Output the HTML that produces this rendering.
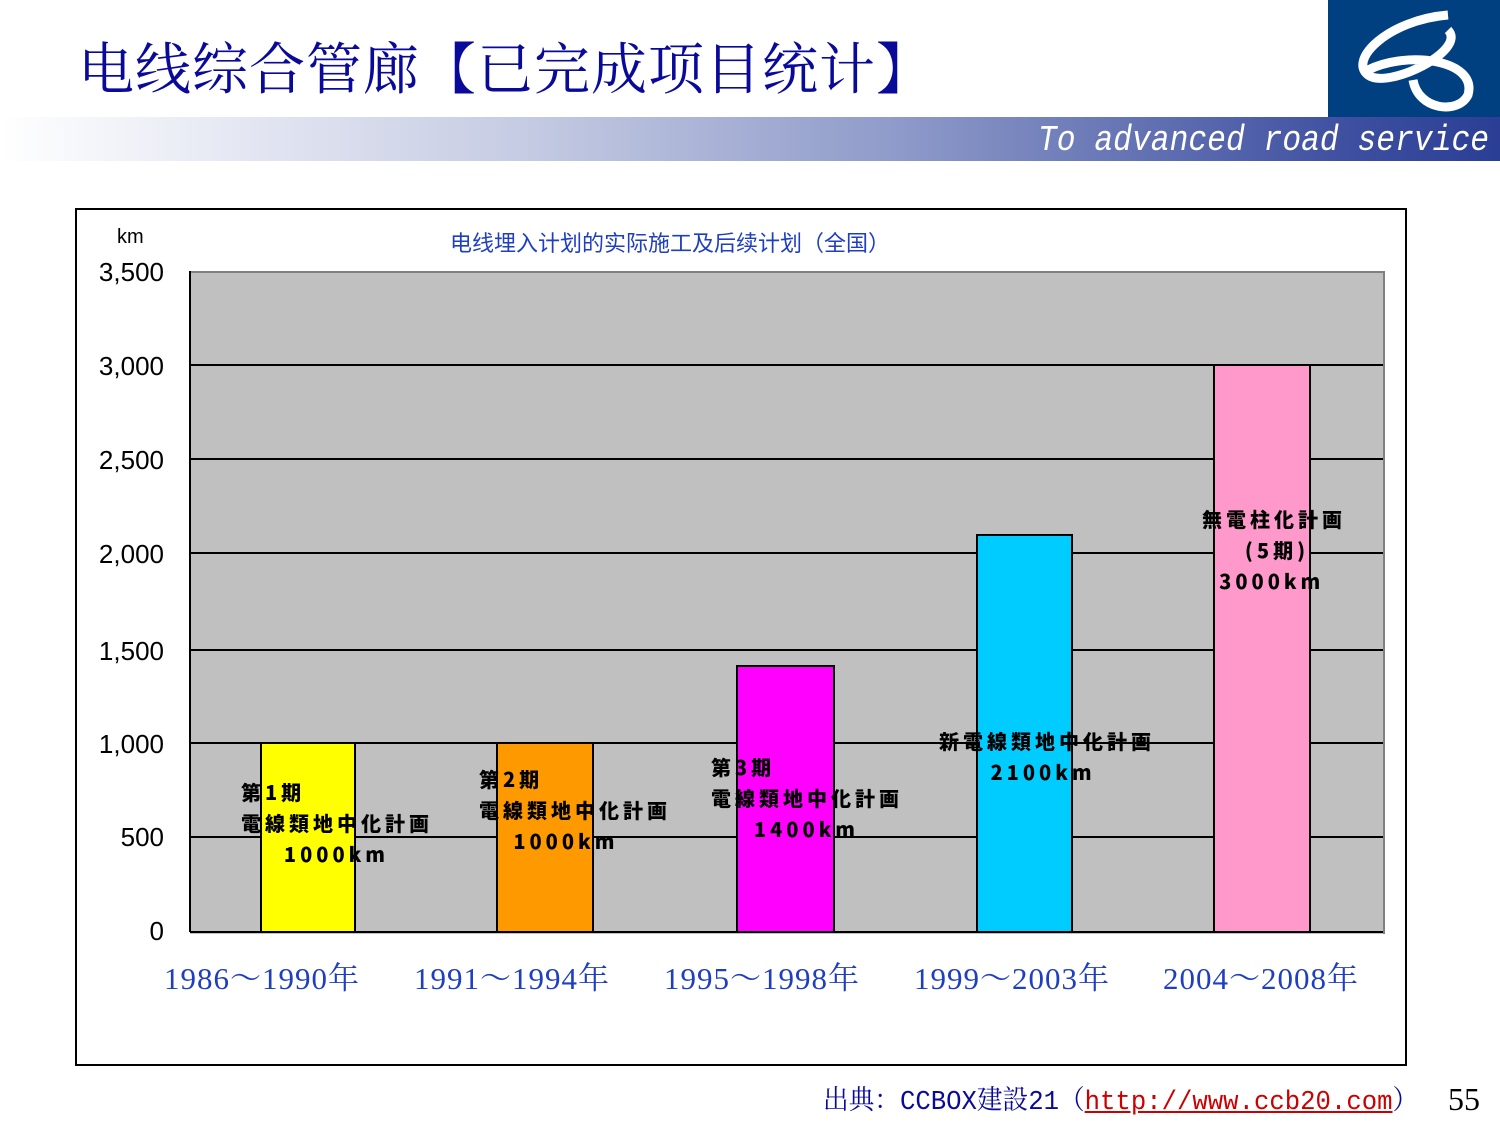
<!DOCTYPE html>
<html><head><meta charset="utf-8"><style>
body{margin:0;width:1500px;height:1125px;background:#fff;position:relative;overflow:hidden;font-family:"Liberation Sans","Noto Sans CJK JP",sans-serif}
.a{position:absolute}
.lbl{position:absolute;font-family:"Noto Sans CJK JP",sans-serif;font-weight:900;font-size:20px;color:#000;line-height:31px;white-space:nowrap;letter-spacing:4px}
.yt{position:absolute;right:1336px;font-size:26px;color:#000;font-family:"Liberation Sans",sans-serif}
.xt{position:absolute;top:953px;font-size:31px;color:#1f3fc0;font-family:"Liberation Serif","Noto Serif CJK SC",serif;letter-spacing:1px}
</style></head><body>
<div class="a" style="left:0;top:117px;width:1500px;height:44px;background:linear-gradient(90deg,#fff 0%,#c5cbe3 35%,#8e9ac9 60%,#3e4fa0 90%,#2a3e95 100%)"></div>
<div class="a" style="left:1328px;top:0;width:172px;height:117px;background:#003f80"></div>
<svg class="a" style="left:1328px;top:0" width="172" height="117"><path d="M120 15 C60 20 20 60 40 75 C60 90 140 50 120 30 M40 70 C80 50 150 60 140 95 C130 115 90 110 85 80" stroke="#fff" stroke-width="9" fill="none"/></svg>
<div class="a" style="left:78px;top:26px;font-size:56px;color:#0a0a9a;font-family:'Noto Serif CJK SC',serif;letter-spacing:1px">电线综合管廊【已完成项目统计】</div>
<div class="a" style="left:1038px;top:120px;font-size:36px;color:#fff;font-style:italic;font-family:'Liberation Mono',monospace;transform:scaleX(0.87);transform-origin:left top;white-space:nowrap">To advanced road service</div>
<div class="a" style="left:75px;top:208px;width:1328px;height:854px;border:2px solid #000"></div>
<div class="a" style="left:190px;top:271px;width:1193px;height:661px;background:#c0c0c0;border-top:2px solid #808080;border-right:2px solid #808080"></div>
<svg class="a" style="left:0;top:0" width="1500" height="1125">
<g stroke="#000" stroke-width="2">
<line x1="190" y1="365" x2="1383" y2="365"/><line x1="190" y1="459" x2="1383" y2="459"/><line x1="190" y1="553" x2="1383" y2="553"/><line x1="190" y1="650" x2="1383" y2="650"/><line x1="190" y1="743" x2="1383" y2="743"/><line x1="190" y1="837" x2="1383" y2="837"/>
<line x1="190" y1="932" x2="1383" y2="932"/><line x1="190" y1="271" x2="190" y2="932"/>
</g>
<g stroke="#000" stroke-width="2">
<rect x="261" y="743" width="94" height="189" fill="#ffff00"/>
<rect x="497" y="743" width="96" height="189" fill="#ff9900"/>
<rect x="737" y="666" width="97" height="266" fill="#ff00ff"/>
<rect x="977" y="535" width="95" height="397" fill="#00ccff"/>
<rect x="1214" y="365" width="96" height="567" fill="#ff99cc"/>
</g>
</svg>
<div class="a" style="left:117px;top:226px;font-size:20px">km</div>
<div class="yt" style="top:257px">3,500</div><div class="yt" style="top:351px">3,000</div><div class="yt" style="top:445px">2,500</div><div class="yt" style="top:539px">2,000</div><div class="yt" style="top:636px">1,500</div><div class="yt" style="top:729px">1,000</div><div class="yt" style="top:822px">500</div><div class="yt" style="top:916px">0</div>
<div class="a" style="left:450px;top:226px;font-size:22px;color:#1f3fc0;font-family:'Noto Sans CJK SC',sans-serif">电线埋入计划的实际施工及后续计划（全国）</div>
<div class="lbl" style="left:241px;top:776px">第1期<br>電線類地中化計画<br>&nbsp;&nbsp;&nbsp;&nbsp;&nbsp;1000km</div>
<div class="lbl" style="left:479px;top:763px">第2期<br>電線類地中化計画<br>&nbsp;&nbsp;&nbsp;&nbsp;1000km</div>
<div class="lbl" style="left:711px;top:751px">第3期<br>電線類地中化計画<br>&nbsp;&nbsp;&nbsp;&nbsp;&nbsp;1400km</div>
<div class="lbl" style="left:939px;top:725px">新電線類地中化計画<br>&nbsp;&nbsp;&nbsp;&nbsp;&nbsp;&nbsp;2100km</div>
<div class="lbl" style="left:1202px;top:503px">無電柱化計画<br>&nbsp;&nbsp;&nbsp;&nbsp;&nbsp;(5期)<br>&nbsp;&nbsp;3000km</div>
<div class="xt" style="left:164px">1986～1990年</div><div class="xt" style="left:414px">1991～1994年</div><div class="xt" style="left:664px">1995～1998年</div><div class="xt" style="left:914px">1999～2003年</div><div class="xt" style="left:1163px">2004～2008年</div>
<div class="a" style="left:823px;top:1078px;font-size:27px;color:#0a0a9a;font-family:'Liberation Mono','Noto Serif CJK SC',serif;transform:scaleX(0.95);transform-origin:left top;white-space:nowrap">出典：CCBOX建設21（<span style="color:#c00;text-decoration:underline">http://www.ccb20.com</span>）</div>
<div class="a" style="left:1448px;top:1081px;font-size:32px;color:#000;font-family:'Liberation Serif',serif">55</div>
</body></html>
